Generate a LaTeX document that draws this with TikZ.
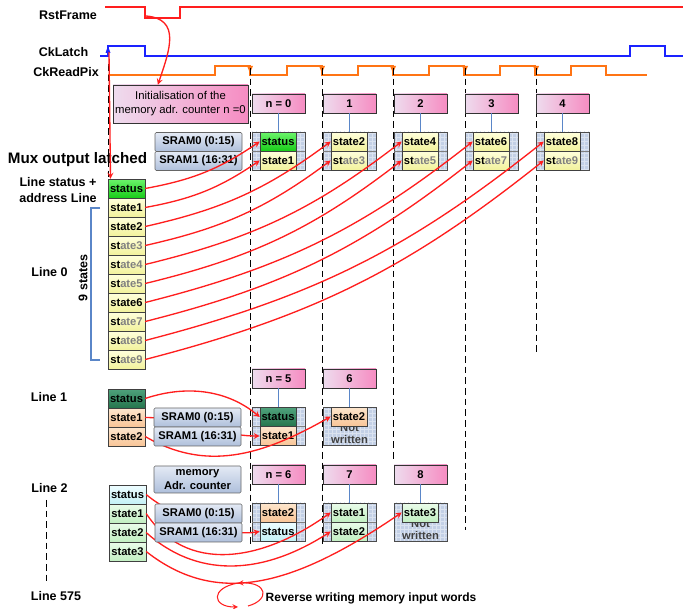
\documentclass[tikz,border=0pt]{standalone}
\usepackage{fontspec}
\setmainfont{Liberation Sans}
\usetikzlibrary{arrows, patterns}

\definecolor{rsred}{HTML}{FF1E1E}
\definecolor{latchblue}{HTML}{1A22FF}
\definecolor{pixorange}{HTML}{FF7414}
\definecolor{tickblue}{HTML}{5A86C8}
\definecolor{hdL}{HTML}{EEDCEE}
\definecolor{hdR}{HTML}{F68CC2}
\definecolor{srT}{HTML}{E4EAF5}
\definecolor{srB}{HTML}{AEBFDB}
\definecolor{blkF}{HTML}{C3D0E6}
\definecolor{gstT}{HTML}{6CF46C}
\definecolor{gstB}{HTML}{18CC18}
\definecolor{ylwT}{HTML}{FFFFDC}
\definecolor{ylwB}{HTML}{F2F29C}
\definecolor{dgT}{HTML}{4FA27C}
\definecolor{dgB}{HTML}{25754D}
\definecolor{pchT}{HTML}{FDE6CE}
\definecolor{pchB}{HTML}{F8C597}
\definecolor{cynT}{HTML}{EEFDFF}
\definecolor{cynB}{HTML}{C4F1F6}
\definecolor{lgrT}{HTML}{EAFCEA}
\definecolor{lgrB}{HTML}{C2EFC2}

\newcommand{\fd}[1]{st\textcolor{black!50}{ate#1}}

\begin{document}
\begin{tikzpicture}[x=0.75pt, y=-0.75pt,
    sig/.style={font=\bfseries\fontsize{9.4}{11}\selectfont},
    lbl/.style={font=\bfseries\fontsize{9.4}{11.5}\selectfont, align=center},
    cell/.style={draw=black!75, minimum width=27.6pt, minimum height=14.2pt, inner sep=0pt, font=\bfseries\fontsize{8.4}{9}\selectfont},
    mcell/.style={cell, minimum width=27pt},
    gst/.style={top color=gstT, bottom color=gstB},
    ylw/.style={top color=ylwT, bottom color=ylwB},
    dgst/.style={top color=dgT, bottom color=dgB},
    pch/.style={top color=pchT, bottom color=pchB},
    cyn/.style={top color=cynT, bottom color=cynB},
    lgr/.style={top color=lgrT, bottom color=lgrB},
    hdr/.style={draw=black!80, left color=hdL, right color=hdR, minimum width=39.75pt, minimum height=14.25pt, inner sep=0pt, font=\bfseries\fontsize{8.4}{9}\selectfont},
    memblk/.style={draw=black!70, preaction={fill=blkF}, pattern=grid, pattern color=blkF!60!white, minimum width=39.75pt, minimum height=28.5pt, inner sep=0pt},
    sram/.style={draw=black!60, rounded corners=1pt, top color=srT, bottom color=srB, minimum width=65.25pt, minimum height=14.25pt, inner sep=0pt, font=\bfseries\fontsize{8.4}{9}\selectfont},
    nowr/.style={text=black!75, align=center, font=\bfseries\fontsize{8.4}{9}\selectfont},
    arrow/.style={-stealth, line width=1pt, draw=rsred},
    tick/.style={draw=tickblue, line width=0.8pt},
    edge/.style={dashed, line width=0.7pt, dash pattern=on 5pt off 3pt}
]
    \useasboundingbox (0,0) rectangle (683,609);

    % Signals
    \draw[rsred, line width=1pt] (105,7) -- (145,7) -- (145,18) -- (180,18) -- (180,7) -- (683,7);
    \draw[latchblue, line width=1pt] (100,56) -- (108,56) -- (108,46) -- (145,46) -- (145,56) -- (630,56) -- (630,46) -- (665,46) -- (665,56) -- (683,56);
    \draw[pixorange, line width=1pt] (108,75) foreach \r in {215,287,358,429,500,571} { -- (\r,75) -- (\r,66) -- (\r+35,66) -- (\r+35,75) } -- (647,75);
    \fill[latchblue] (105.5,53) -- (110.5,53) -- (108,46) -- cycle;
    \foreach \f in {250,322,393,465,536} \fill[pixorange] (\f-3,66) -- (\f+3,66) -- (\f,73) -- cycle;
    \coordinate (rstfall) at (146,16);
    \coordinate (latchrise) at (109,52);

    \node[sig] (rst) at (68,15) {RstFrame};
    \node[sig] (latch) at (63.5,52) {CkLatch};
    \node[sig] (pix) at (66,72) {CkReadPix};

    % Edges of CkReadPix
    \draw[edge] (108,64) -- (108,180);
    \draw[edge] (250,68) -- (250,545);
    \draw[edge] (322,68) -- (322,545);
    \draw[edge] (393,68) -- (393,460);
    \draw[edge] (465,68) -- (465,530);
    \draw[edge] (536,68) -- (536,355);
    \draw[edge] (46,500) -- (46,584);

    % Labels
    \node[lbl, font=\bfseries\fontsize{11.4}{13}\selectfont] (mux) at (77.5,160) {Mux output latched};
    \node[lbl] (lstat) at (58,190) {Line status +\\address Line};
    \node[lbl] (line0) at (49.5,272) {Line 0};
    \node[lbl, rotate=90] (nine) at (83,278) {9 states};
    \draw[tickblue, line width=0.9pt] (100,208) -- (91,208) -- (91,360) -- (100,360);
    \node[lbl] (line1) at (49,397) {Line 1};
    \node[lbl] (line2) at (49.5,488) {Line 2};
    \node[lbl] (line575) at (56,596) {Line 575};
    \node[lbl, anchor=west, font=\bfseries\fontsize{9}{11}\selectfont] (rev) at (261,598) {Reverse writing memory input words};

    \node[draw=black!80, left color=hdL, right color=hdR, minimum width=101.25pt, minimum height=28.5pt, inner sep=0pt, align=center, font=\fontsize{8.5}{10.5}\selectfont] (init) at (180.5,104) {Initialisation of the\\memory adr. counter n =0};

    % Line 0
    \node[cell, gst] (l0st) at (126.5,188.5) {status};
    \node[cell, ylw] (l0s1) at (126.5,207.5) {state1};
    \node[cell, ylw] (l0s2) at (126.5,226.5) {state2};
    \node[cell, ylw] (l0s3) at (126.5,245.5) {\fd{3}};
    \node[cell, ylw] (l0s4) at (126.5,264.5) {\fd{4}};
    \node[cell, ylw] (l0s5) at (126.5,283.5) {\fd{5}};
    \node[cell, ylw] (l0s6) at (126.5,302.5) {state6};
    \node[cell, ylw] (l0s7) at (126.5,321.5) {\fd{7}};
    \node[cell, ylw] (l0s8) at (126.5,340.5) {\fd{8}};
    \node[cell, ylw] (l0s9) at (126.5,359.5) {\fd{9}};

    % Line 1
    \node[cell, dgst] (l1st) at (126.5,398.5) {status};
    \node[cell, pch] (l1s1) at (126.5,417.5) {state1};
    \node[cell, pch] (l1s2) at (126.5,436.5) {state2};

    % Line 2
    \node[cell, cyn] (l2st) at (127.5,494.5) {status};
    \node[cell, lgr] (l2s1) at (127.5,513.5) {state1};
    \node[cell, lgr] (l2s2) at (127.5,532.5) {state2};
    \node[cell, lgr] (l2s3) at (127.5,551.5) {state3};

    % Memory, line 0
    \foreach \k/\n in {0/{n = 0},1/1,2/2,3/3,4/4} {
        \node[hdr] (hd0\k) at (278.5+71*\k,103.5) {\n};
        \node[memblk] (mem0\k) at (278.5+71*\k,151) {};
        \draw[black!50] (mem0\k.west) -- (mem0\k.east);
        \draw[tick] (hd0\k.south) -- (mem0\k.north);
    }
    \node[mcell, gst] (mem00a) at (278,141.5) {status};
    \node[mcell, ylw] (mem00b) at (278,160.5) {state1};
    \node[mcell, ylw] (mem01a) at (349,141.5) {state2};
    \node[mcell, ylw] (mem01b) at (349,160.5) {\fd{3}};
    \node[mcell, ylw] (mem02a) at (420,141.5) {state4};
    \node[mcell, ylw] (mem02b) at (420,160.5) {\fd{5}};
    \node[mcell, ylw] (mem03a) at (491,141.5) {state6};
    \node[mcell, ylw] (mem03b) at (491,160.5) {\fd{7}};
    \node[mcell, ylw] (mem04a) at (562,141.5) {state8};
    \node[mcell, ylw] (mem04b) at (562,160.5) {\fd{9}};

    % Memory, line 1
    \node[hdr] (hd15) at (278.5,378.5) {n = 5};
    \node[memblk] (mem15) at (278.5,426.5) {};
    \draw[black!50] (mem15.west) -- (mem15.east);
    \node[mcell, dgst] (mem15a) at (278,417) {status};
    \node[mcell, pch] (mem15b) at (278,436) {state1};
    \node[hdr] (hd16) at (349.5,378.5) {6};
    \node[memblk] (mem16) at (349.5,426.5) {};
    \node[nowr] (nw16) at (349.5,434) {Not\\written};
    \node[mcell, pch] (mem16a) at (349,416.5) {state2};
    \draw[tick] (hd15.south) -- (mem15.north);
    \draw[tick] (hd16.south) -- (mem16.north);

    % Memory, line 2
    \node[hdr] (hd26) at (278.5,474.5) {n = 6};
    \node[memblk] (mem26) at (278.5,522) {};
    \draw[black!50] (mem26.west) -- (mem26.east);
    \node[mcell, pch] (mem26a) at (278,512.5) {state2};
    \node[mcell, cyn] (mem26b) at (278,531.5) {status};
    \node[hdr] (hd27) at (349.5,474.5) {7};
    \node[memblk] (mem27) at (349.5,522) {};
    \draw[black!50] (mem27.west) -- (mem27.east);
    \node[mcell, lgr] (mem27a) at (349,512.5) {state1};
    \node[mcell, lgr] (mem27b) at (349,531.5) {state2};
    \node[hdr] (hd28) at (420.5,474.5) {8};
    \node[memblk] (mem28) at (420.5,522) {};
    \node[nowr] (nw28) at (420.5,530) {Not\\written};
    \node[mcell, lgr] (mem28a) at (420,512.5) {state3};
    \draw[tick] (hd26.south) -- (mem26.north);
    \draw[tick] (hd27.south) -- (mem27.north);
    \draw[tick] (hd28.south) -- (mem28.north);

    % Writes passing under the SRAM words
    \draw[arrow] (l1s1.east) .. controls +(40,0) and +(-40,0) .. (mem15b.west);
    \draw[arrow] (l1s2.east) .. controls +(60,35) and +(-70,40) .. (mem16a.west);
    \draw[arrow] (l2st.east) .. controls +(30,25) and +(-30,5) .. (mem26b.west);
    \draw[arrow] (l2s1.east) .. controls +(40,60) and +(-70,50) .. (mem27a.west);
    \draw[arrow] (l2s2.east) .. controls +(50,45) and +(-70,45) .. (mem27b.west);
    \draw[arrow] (l2s3.east) .. controls +(70,55) and +(-110,75) .. (mem28a.west);

    % SRAM words
    \node[sram] (sr0a) at (198.5,142) {SRAM0 (0:15)};
    \node[sram] (sr0b) at (198.5,161) {SRAM1 (16:31)};
    \node[sram] (sr1a) at (197.5,417.5) {SRAM0 (0:15)};
    \node[sram] (sr1b) at (197.5,436.5) {SRAM1 (16:31)};
    \node[sram, minimum height=20.25pt, align=center, font=\bfseries\fontsize{8.4}{10}\selectfont] (cnt) at (197.5,479.5) {memory\\Adr. counter};
    \node[sram] (sr2a) at (198.5,513.5) {SRAM0 (0:15)};
    \node[sram] (sr2b) at (198.5,532.5) {SRAM1 (16:31)};

    % Writes of line 0
    \foreach \s/\t in {l0st/mem00a, l0s1/mem00b, l0s2/mem01a, l0s3/mem01b, l0s4/mem02a, l0s5/mem02b, l0s6/mem03a, l0s7/mem03b, l0s8/mem04a, l0s9/mem04b}
        \draw[arrow] (\s.east) to[bend right=12] (\t.west);
    \draw[arrow] (l1st.east) .. controls +(45,-15) and +(-30,-25) .. (mem15a.west);

    % Reset and latch
    \draw[arrow] (rstfall) .. controls +(35,3) and +(12,-35) .. ([xshift=-17pt]init.north);
    \draw[arrow] (latchrise) -- ([xshift=2pt]l0st.north west);

    % Reverse writing
    \draw[arrow, line width=0.8pt] (248,606) .. controls (270,600) and (268,582) .. (238,583);
    \draw[arrow, line width=0.8pt] (238,583) .. controls (210,588) and (212,607) .. (238,607);
\end{tikzpicture}
\end{document}
